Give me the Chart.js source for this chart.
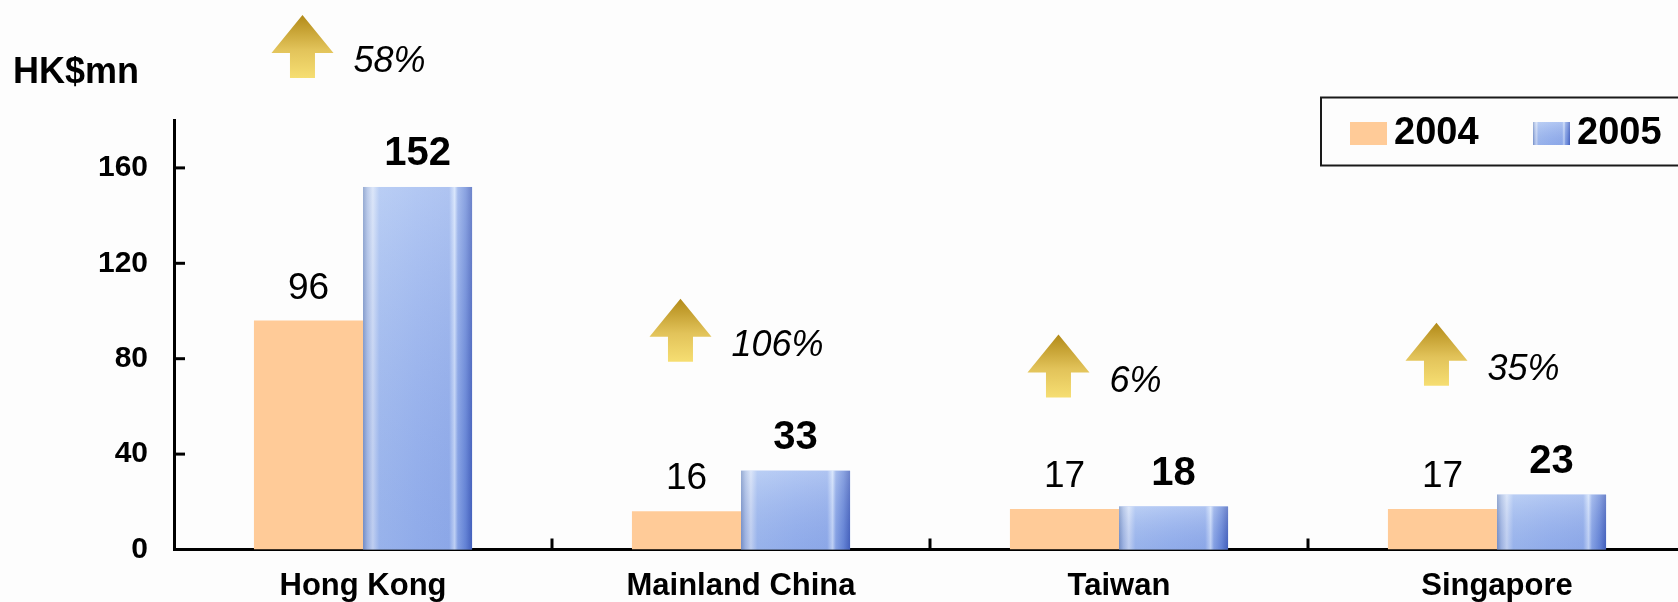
<!DOCTYPE html>
<html>
<head>
<meta charset="utf-8">
<title>Revenue by region</title>
<script src="https://cdn.jsdelivr.net/npm/chart.js@4.4.0/dist/chart.umd.min.js"></script>
<style>
    html, body { margin: 0; padding: 0; background: #fdfdfd; overflow: hidden; }
    #wrap { width: 1690px; height: 602px; }
</style>
</head>
<body>
<div id="wrap"><canvas id="regionChart" width="1690" height="602"></canvas></div>
<script>
const regions = ['Hong Kong', 'Mainland China', 'Taiwan', 'Singapore'];
const revenue2004 = [96, 16, 17, 17];
const revenue2005 = [152, 33, 18, 23];
const growthLabels = ['58%', '106%', '6%', '35%'];
const yTickValues = [0, 40, 80, 120, 160];
const yMax = 180;

const FONT = '"Liberation Sans", Arial, Helvetica, sans-serif';
const ORANGE = '#ffcb98';

// cylinder-like shading of the 2005 bars
function paintBlue(ctx, left, top, width, height) {
    const h = ctx.createLinearGradient(left, 0, left + width, 0);
    h.addColorStop(0, '#7b95c6');
    h.addColorStop(0.04, '#a9bde4');
    h.addColorStop(0.09, '#d2dff7');
    h.addColorStop(0.15, '#a6c0f1');
    h.addColorStop(0.5, '#9db8f0');
    h.addColorStop(0.79, '#98b3ed');
    h.addColorStop(0.84, '#d0e0fb');
    h.addColorStop(0.87, '#8eaae8');
    h.addColorStop(0.94, '#6a89d8');
    h.addColorStop(1, '#4561bb');
    ctx.fillStyle = h;
    ctx.fillRect(left, top, width, height);
    const v = ctx.createLinearGradient(0, top, 0, top + height);
    v.addColorStop(0, 'rgba(255,255,255,0.22)');
    v.addColorStop(1, 'rgba(50,80,190,0.12)');
    ctx.fillStyle = v;
    ctx.fillRect(left, top, width, height);
}

function drawArrow(ctx, cx, bottom) {
    const w = 62, h = 63, headH = 38, shaftW = 25;
    const top = bottom - h;
    const g = ctx.createLinearGradient(0, top, 0, bottom);
    g.addColorStop(0, '#b28a18');
    g.addColorStop(0.55, '#e2c35a');
    g.addColorStop(1, '#f6de72');
    ctx.fillStyle = g;
    ctx.beginPath();
    ctx.moveTo(cx, top);
    ctx.lineTo(cx + w / 2, top + headH);
    ctx.lineTo(cx + shaftW / 2, top + headH);
    ctx.lineTo(cx + shaftW / 2, bottom);
    ctx.lineTo(cx - shaftW / 2, bottom);
    ctx.lineTo(cx - shaftW / 2, top + headH);
    ctx.lineTo(cx - w / 2, top + headH);
    ctx.closePath();
    ctx.fill();
}

const decorPlugin = {
    id: 'decor',
    afterDatasetDraw(chart, args) {
        if (args.index !== 1) return;
        const ctx = chart.ctx;
        ctx.save();
        args.meta.data.forEach(bar => {
            const p = bar.getProps(['x', 'y', 'base', 'width'], true);
            paintBlue(ctx, p.x - p.width / 2, p.y, p.width, p.base - p.y);
        });
        ctx.restore();
    },
    afterDraw(chart) {
        const ctx = chart.ctx;
        const area = chart.chartArea;
        const xs = chart.scales.x;
        const ys = chart.scales.y;
        ctx.save();

        // tick marks pointing into the plot
        ctx.strokeStyle = '#000';
        ctx.lineWidth = 3;
        yTickValues.forEach(v => {
            if (v === 0) return;
            const y = ys.getPixelForValue(v);
            ctx.beginPath();
            ctx.moveTo(area.left, y);
            ctx.lineTo(area.left + 11, y);
            ctx.stroke();
        });
        for (let i = 1; i <= regions.length; i++) {
            const x = (xs.getPixelForValue(i - 1) + xs.getPixelForValue(i)) / 2;
            ctx.beginPath();
            ctx.moveTo(x, area.bottom);
            ctx.lineTo(x, area.bottom - 11);
            ctx.stroke();
        }

        // value labels
        const m0 = chart.getDatasetMeta(0);
        const m1 = chart.getDatasetMeta(1);
        ctx.fillStyle = '#000';
        ctx.textAlign = 'center';
        ctx.textBaseline = 'alphabetic';
        m0.data.forEach((bar, i) => {
            ctx.font = `normal 37px ${FONT}`;
            ctx.fillText(String(revenue2004[i]), bar.x, bar.y - 22);
        });
        m1.data.forEach((bar, i) => {
            ctx.font = `bold 40px ${FONT}`;
            ctx.fillText(String(revenue2005[i]), bar.x, bar.y - 22);
        });

        // growth arrows
        m1.data.forEach((bar, i) => {
            const cx = m0.data[i].x - 6;
            const bottom = bar.y - 109;
            drawArrow(ctx, cx, bottom);
            ctx.fillStyle = '#000';
            ctx.font = `italic 36px ${FONT}`;
            ctx.textAlign = 'left';
            ctx.textBaseline = 'middle';
            ctx.fillText(growthLabels[i], cx + 31 + 20, bottom - 16);
        });

        // legend box
        ctx.lineWidth = 2;
        ctx.strokeStyle = '#1a1a1a';
        ctx.strokeRect(1321, 97.5, 420, 68);
        ctx.font = `bold 38px ${FONT}`;
        ctx.textAlign = 'left';
        ctx.textBaseline = 'middle';
        ctx.fillStyle = ORANGE;
        ctx.fillRect(1350, 122, 37, 23);
        ctx.fillStyle = '#000';
        ctx.fillText(chart.data.datasets[0].label, 1394, 134);
        paintBlue(ctx, 1533, 122, 37, 23);
        ctx.fillStyle = '#000';
        ctx.fillText(chart.data.datasets[1].label, 1577, 134);

        ctx.restore();
    }
};

const ctx = document.getElementById('regionChart').getContext('2d');
const regionChart = new Chart(ctx, {
    type: 'bar',
    data: {
        labels: regions,
        datasets: [
            {
                label: '2004',
                data: revenue2004,
                backgroundColor: ORANGE,
                borderWidth: 0
            },
            {
                label: '2005',
                data: revenue2005,
                backgroundColor: '#a1bbf1',
                borderWidth: 0
            }
        ]
    },
    options: {
        responsive: false,
        animation: false,
        devicePixelRatio: 1,
        categoryPercentage: 0.577,
        barPercentage: 1,
        layout: {
            padding: { left: 13, right: 4, top: 0, bottom: 0 }
        },
        scales: {
            x: {
                grid: { display: false, drawTicks: false },
                border: { display: true, color: '#000', width: 3 },
                ticks: {
                    padding: 18,
                    color: '#000',
                    font: { family: FONT, size: 31, weight: 'bold' }
                },
                afterFit: function(scale) {
                    scale.height = 52.5;
                }
            },
            y: {
                min: 0,
                max: yMax,
                grid: { display: false, drawTicks: false },
                border: { display: true, color: '#000', width: 3 },
                ticks: {
                    stepSize: 40,
                    padding: 26,
                    color: '#000',
                    font: { family: FONT, size: 30, weight: 'bold' }
                },
                afterBuildTicks: function(scale) {
                    scale.ticks = yTickValues.map(v => ({ value: v }));
                },
                afterFit: function(scale) {
                    scale.width = 161;
                }
            }
        },
        plugins: {
            legend: { display: false },
            tooltip: { enabled: false },
            title: {
                display: true,
                text: 'HK$mn',
                align: 'start',
                color: '#000',
                font: { family: FONT, size: 36, weight: 'bold' },
                padding: { top: 51, bottom: 26 }
            }
        }
    },
    plugins: [decorPlugin]
});
</script>
</body>
</html>
